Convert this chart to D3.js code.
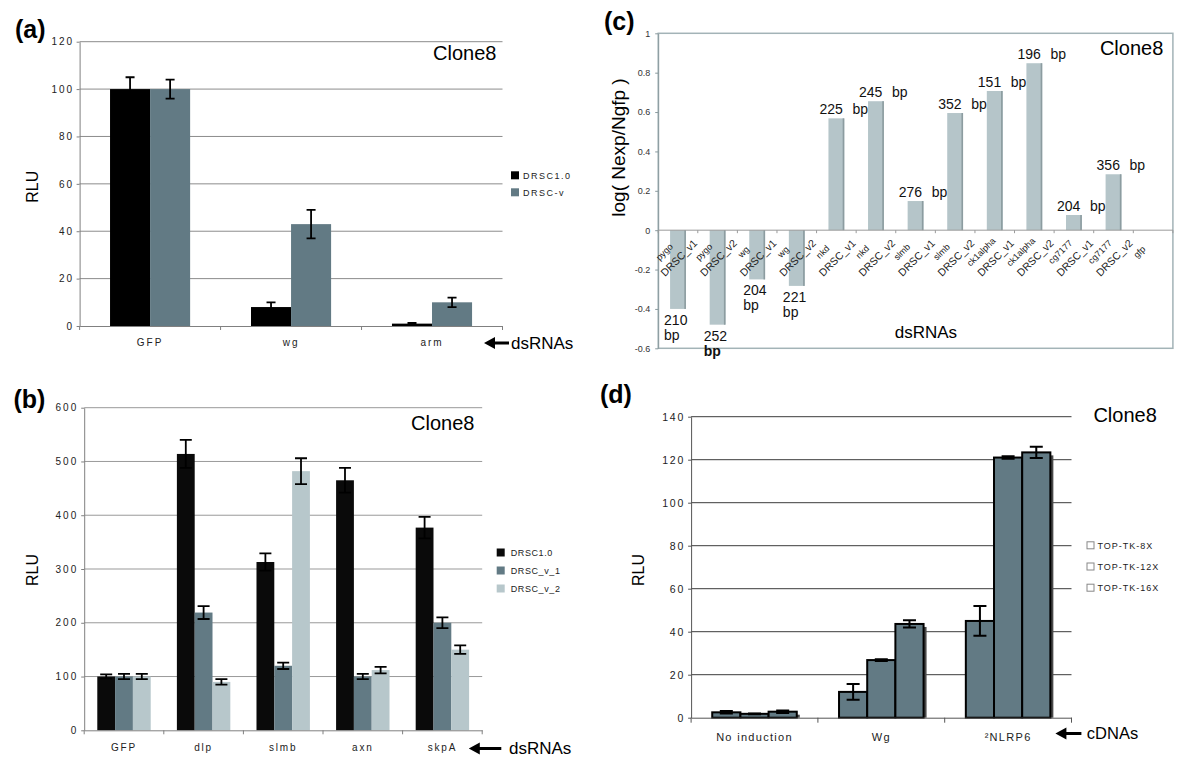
<!DOCTYPE html>
<html><head><meta charset="utf-8">
<script src="https://cdn.jsdelivr.net/npm/d3@7"></script>
<style>body{margin:0;background:#fff}svg{display:block}text{font-family:"Liberation Sans",Arial,Helvetica,sans-serif}</style>
</head><body><svg id="fig" width="1200" height="765"></svg>
<script>
// ---------------- DATA ----------------
// Panel (a)
const catsA = ["GFP", "wg", "arm"];
const seriesA = ["DRSC1.0", "DRSC-v"];
const valA_drsc10 = [100, 8, 1];
const valA_drscv = [100, 43, 10];
const errA_drsc10 = [5, 2, 0.3];
const errA_drscv = [4, 6, 2];
const ticksA = [0, 20, 40, 60, 80, 100, 120];

// Panel (b)
const catsB = ["GFP", "dlp", "slmb", "axn", "skpA"];
const seriesB = ["DRSC1.0", "DRSC_v_1", "DRSC_v_2"];
const valB_drsc10 = [100, 514, 313, 465, 377];
const valB_v1 = [100, 219, 120, 100, 200];
const valB_v2 = [100, 90, 482, 112, 150];
const errB_drsc10 = [4, 26, 16, 23, 20];
const errB_v1 = [5, 12, 6, 5, 10];
const errB_v2 = [5, 5, 24, 6, 8];
const ticksB = [0, 100, 200, 300, 400, 500, 600];

// Panel (c)
const genesC = ["pygo", "pygo", "wg", "wg", "nkd", "nkd", "slmb", "slmb", "ck1alpha", "ck1alpha", "cg7177", "cg7177", "gfp"];
const libsC = ["DRSC_v1", "DRSC_v2", "DRSC_v1", "DRSC_v2", "DRSC_v1", "DRSC_v2", "DRSC_v1", "DRSC_v2", "DRSC_v1", "DRSC_v2", "DRSC_v1", "DRSC_v2", ""];
const valC = [-0.40, -0.48, -0.25, -0.283, 0.568, 0.655, 0.148, 0.595, 0.707, 0.848, 0.077, 0.284, 0];
const bpC = [210, 252, 204, 221, 225, 245, 276, 352, 151, 196, 204, 356, null];
const ticksC = [-0.6, -0.4, -0.2, 0, 0.2, 0.4, 0.6, 0.8, 1];

// Panel (d)
const catsD = ["No induction", "Wg", "\u00B2NLRP6"];
const seriesD = ["TOP-TK-8X", "TOP-TK-12X", "TOP-TK-16X"];
const valD_8x = [2.5, 12, 45];
const valD_12x = [1.8, 26.8, 121];
const valD_16x = [2.8, 43.6, 123.4];
const errD_8x = [0.6, 3.7, 6.9];
const errD_12x = [0.2, 0.4, 0.6];
const errD_16x = [0.6, 1.7, 2.6];
const ticksD = [0, 20, 40, 60, 80, 100, 120, 140];

// ---------------- DRAWING ----------------
const svg = d3.select("#fig");
svg.append("rect").attr("width", 1200).attr("height", 765).attr("fill", "#fff");

function arrow(g, xTip, xEnd, y) {
  const h = 11;
  g.append("path")
    .attr("d", `M${xTip},${y}L${xTip + h},${y - 6}L${xTip + h},${y - 1.6}L${xEnd},${y - 1.6}L${xEnd},${y + 1.6}L${xTip + h},${y + 1.6}L${xTip + h},${y + 6}Z`)
    .attr("fill", "#000");
}

function txt(g, x, y, s, size, opts = {}) {
  const t = g.append("text").attr("x", x).attr("y", y).attr("font-size", size).text(s)
    .attr("fill", opts.fill || "#000");
  if (opts.anchor) t.attr("text-anchor", opts.anchor);
  if (opts.weight) t.attr("font-weight", opts.weight);
  if (opts.ls) t.attr("letter-spacing", opts.ls);
  if (opts.rot) t.attr("transform", `rotate(${opts.rot},${x},${y})`);
  return t;
}

function groupedPanel(o) {
  const g = svg.append("g");
  const y = d3.scaleLinear().domain([o.ticks[0], o.ticks[o.ticks.length - 1]]).range([o.B, o.T]);
  const x0 = d3.scaleBand().domain(o.cats).range([o.L, o.R]);
  const x1 = d3.scaleBand().domain(o.series).range([0, x0.bandwidth()]).paddingOuter(o.outer);

  // gridlines
  g.selectAll(null).data(o.ticks.slice(1)).join("line")
    .attr("x1", o.L).attr("x2", o.gridR || o.R).attr("y1", d => y(d)).attr("y2", d => y(d))
    .attr("stroke", o.gridColor).attr("stroke-width", 1);

  // y axis
  const ay = g.append("g").attr("transform", `translate(${o.L},0)`)
    .call(d3.axisLeft(y).tickValues(o.ticks).tickSize(3).tickSizeOuter(0).tickPadding(o.yPad).tickFormat(d3.format("d")));
  ay.select(".domain").attr("stroke", o.axisColor);
  ay.selectAll(".tick line").attr("stroke", o.axisColor);
  ay.selectAll(".tick text").attr("font-size", o.yFont).attr("letter-spacing", o.yLs)
    .attr("fill", "#222").attr("font-family", null);

  // bars
  const data = [];
  o.cats.forEach((c, i) => o.series.forEach((s, j) => data.push({ c, s, v: o.values[j][i], e: o.errors[j][i], j })));
  if (o.shadow) {
    g.selectAll(null).data(data).join("rect")
      .attr("x", d => x0(d.c) + x1(d.s) + 3).attr("y", d => y(d.v) + 3)
      .attr("width", x1.bandwidth()).attr("height", d => Math.max(0, y(0) - y(d.v) - 3))
      .attr("fill", "#4a4a4a");
  }
  g.selectAll(null).data(data).join("rect")
    .attr("x", d => x0(d.c) + x1(d.s)).attr("y", d => y(d.v))
    .attr("width", x1.bandwidth()).attr("height", d => y(0) - y(d.v))
    .attr("fill", d => o.colors[d.j])
    .attr("stroke", o.barStroke || "none").attr("stroke-width", o.barStrokeW || 0);

  // error bars
  const cx = d => x0(d.c) + x1(d.s) + x1.bandwidth() / 2;
  g.selectAll(null).data(data).join("path")
    .attr("d", d => {
      const yt = y(d.v + d.e), yb = y(d.v - d.e), h = o.cap / 2;
      return `M${cx(d)},${yb}V${yt}M${cx(d) - h},${yt}h${o.cap}M${cx(d) - h},${yb}h${o.cap}`;
    })
    .attr("stroke", "#000").attr("stroke-width", o.errW).attr("fill", "none");

  // x axis
  const ax = g.append("g").attr("transform", `translate(0,${y(0)})`)
    .call(d3.axisBottom(x0).tickSize(0).tickPadding(o.xPad));
  ax.select(".domain").attr("stroke", o.axisColor);
  ax.selectAll(".tick text").attr("font-size", o.xFont).attr("letter-spacing", o.xLs)
    .attr("fill", "#222").attr("font-family", null);
  // category boundary ticks
  const bounds = o.cats.map(c => x0(c)).concat([o.R]);
  g.selectAll(null).data(bounds).join("line")
    .attr("x1", d => d).attr("x2", d => d).attr("y1", y(0)).attr("y2", y(0) + o.xTick)
    .attr("stroke", o.axisColor);

  // legend
  o.series.forEach((s, j) => {
    const cy = o.legY + j * o.legStep;
    g.append("rect").attr("x", o.legX).attr("y", cy - o.legSq / 2).attr("width", o.legSq).attr("height", o.legSq)
      .attr("fill", o.legFill ? o.legFill : o.colors[j]).attr("stroke", o.legStroke || "none").attr("stroke-width", 1);
    txt(g, o.legX + o.legTextDx, cy + 3.3, s, o.legFont, { ls: o.legLs, fill: "#222" });
  });
  return g;
}

// ---------- Panel (a) ----------
const gA = groupedPanel({
  cats: catsA, series: seriesA, values: [valA_drsc10, valA_drscv], errors: [errA_drsc10, errA_drscv],
  colors: ["#000000", "#627a84"], ticks: ticksA,
  L: 79.6, R: 502.5, T: 41.7, B: 326, outer: 0.76,
  gridColor: "#8c8c8c", axisColor: "#808080", yPad: 2.5, yFont: 10, yLs: 2,
  xPad: 13, xFont: 10, xLs: 2, xTick: 4, cap: 9, errW: 1.8,
  legX: 511, legY: 175.3, legStep: 17, legSq: 8, legTextDx: 12, legFont: 9, legLs: 1.5
});
txt(gA, 15, 38, "(a)", 25, { weight: "bold" });
txt(gA, 38, 186.7, "RLU", 16, { anchor: "middle", rot: -90 });
txt(gA, 496.4, 60, "Clone8", 20, { anchor: "end" });
arrow(gA, 484, 509, 343);
txt(gA, 511, 348.5, "dsRNAs", 17);

// ---------- Panel (b) ----------
const gB = groupedPanel({
  cats: catsB, series: seriesB, values: [valB_drsc10, valB_v1, valB_v2], errors: [errB_drsc10, errB_v1, errB_v2],
  colors: ["#0a0a0a", "#627a84", "#b7c7cb"], ticks: ticksB,
  L: 84.2, R: 482.2, T: 407.7, B: 730.3, outer: 0.735,
  gridColor: "#999999", axisColor: "#808080", yPad: 3, yFont: 10, yLs: 2,
  xPad: 13.3, xFont: 10, xLs: 1.8, xTick: 4, cap: 12, errW: 1.8,
  legX: 496.7, legY: 552.5, legStep: 18, legSq: 8, legTextDx: 14, legFont: 9, legLs: 0.6
});
txt(gB, 13.4, 408, "(b)", 25, { weight: "bold" });
txt(gB, 38, 570, "RLU", 16, { anchor: "middle", rot: -90 });
txt(gB, 474.5, 430, "Clone8", 20, { anchor: "end" });
arrow(gB, 468.8, 501.3, 748.5);
txt(gB, 509, 754, "dsRNAs", 17);

// ---------- Panel (d) ----------
const gD = groupedPanel({
  cats: catsD, series: seriesD, values: [valD_8x, valD_12x, valD_16x], errors: [errD_8x, errD_12x, errD_16x],
  colors: ["#627a84", "#627a84", "#627a84"], ticks: ticksD,
  L: 691.1, R: 1071.5, T: 416.7, B: 717.7, outer: 0.75,
  gridColor: "#3c3c3c", axisColor: "#555555", yPad: 3, yFont: 10.5, yLs: 1.8,
  xPad: 16, xFont: 11, xLs: 1.3, xTick: 5, cap: 13, errW: 2,
  barStroke: "#000", barStrokeW: 2, shadow: true,
  legX: 1087, legY: 545.3, legStep: 21.2, legSq: 7, legTextDx: 10.5, legFont: 9, legLs: 1,
  legFill: "#fff", legStroke: "#888"
});
txt(gD, 600, 403, "(d)", 25, { weight: "bold" });
txt(gD, 644, 570, "RLU", 16, { anchor: "middle", rot: -90 });
txt(gD, 1156.8, 421.7, "Clone8", 20, { anchor: "end" });
arrow(gD, 1055.4, 1081.4, 733.5);
txt(gD, 1086.8, 738.5, "cDNAs", 16.5);

// ---------- Panel (c) ----------
(function () {
  const g = svg.append("g");
  const L = 658.2, R = 1172.9, T = 33.3, B = 348.3;
  const y = d3.scaleLinear().domain([ticksC[0], ticksC[ticksC.length - 1]]).range([B, T]);
  const x = d3.scaleBand().domain(d3.range(genesC.length)).range([L, R]);
  const bw = x.bandwidth(), barW = bw * 0.4;
  const bx = i => x(i) + (bw - barW) / 2;

  // frame
  g.append("rect").attr("x", L).attr("y", T).attr("width", R - L).attr("height", B - T)
    .attr("fill", "none").attr("stroke", "#a3b3b7").attr("stroke-width", 1.5);

  // y axis
  const ay = g.append("g").attr("transform", `translate(${L},0)`)
    .call(d3.axisLeft(y).tickValues(ticksC).tickSize(3).tickSizeOuter(0).tickPadding(5)
      .tickFormat(d => String(+d.toFixed(1))));
  ay.select(".domain").attr("stroke", "#8a9a9e");
  ay.selectAll(".tick line").attr("stroke", "#8a9a9e");
  ay.selectAll(".tick text").attr("font-size", 9).attr("fill", "#333").attr("font-family", null);

  // bars
  const idx = d3.range(genesC.length).filter(i => valC[i] !== 0);
  g.selectAll(null).data(idx).join("rect")
    .attr("x", i => bx(i)).attr("y", i => y(Math.max(0, valC[i])))
    .attr("width", barW).attr("height", i => Math.abs(y(valC[i]) - y(0)))
    .attr("fill", "#b5c5c9");
  g.selectAll(null).data(idx).join("rect")
    .attr("x", i => bx(i) + barW - 1.6).attr("y", i => y(Math.max(0, valC[i])))
    .attr("width", 1.6).attr("height", i => Math.abs(y(valC[i]) - y(0)))
    .attr("fill", "#8c9ca0");

  // zero line + ticks
  g.append("line").attr("x1", L).attr("x2", R).attr("y1", y(0)).attr("y2", y(0)).attr("stroke", "#9a9a9a");
  g.selectAll(null).data(d3.range(genesC.length + 1)).join("line")
    .attr("x1", i => L + i * x.step()).attr("x2", i => L + i * x.step())
    .attr("y1", y(0)).attr("y2", y(0) + 3).attr("stroke", "#9a9a9a");

  // category labels (two lines, rotated)
  genesC.forEach((gn, i) => {
    const lg = g.append("g").attr("transform", `translate(${x(i) + bw / 2 + 1},258) rotate(-45)`);
    lg.append("text").attr("x", -6).attr("y", -11.5).attr("text-anchor", "middle").attr("font-size", 9).attr("fill", "#222").text(gn);
    if (libsC[i]) lg.append("text").attr("x", 0).attr("y", 3.5).attr("text-anchor", "middle").attr("font-size", 10.5).attr("fill", "#222").text(libsC[i]);
  });

  // bp labels
  idx.forEach(i => {
    if (bpC[i] == null) return;
    if (valC[i] > 0) {
      txt(g, bx(i) - 9, y(valC[i]) - 4, String(bpC[i]), 14, { fill: "#111" });
      txt(g, bx(i) + 24, y(valC[i]) - 4, "bp", 14, { fill: "#111" });
    } else {
      txt(g, bx(i) - 6, y(valC[i]) + 16, String(bpC[i]), 14, { fill: "#111" });
      txt(g, bx(i) - 6, y(valC[i]) + 31, "bp", 14, { fill: "#111", weight: i === 1 ? "bold" : null });
    }
  });

  txt(g, 604, 30, "(c)", 25, { weight: "bold" });
  txt(g, 625, 147.5, "log( Nexp/Ngfp )", 19, { anchor: "middle", rot: -90 });
  txt(g, 1163.3, 55, "Clone8", 20, { anchor: "end" });
  txt(g, 894.7, 338, "dsRNAs", 17);
})();
</script></body></html>
